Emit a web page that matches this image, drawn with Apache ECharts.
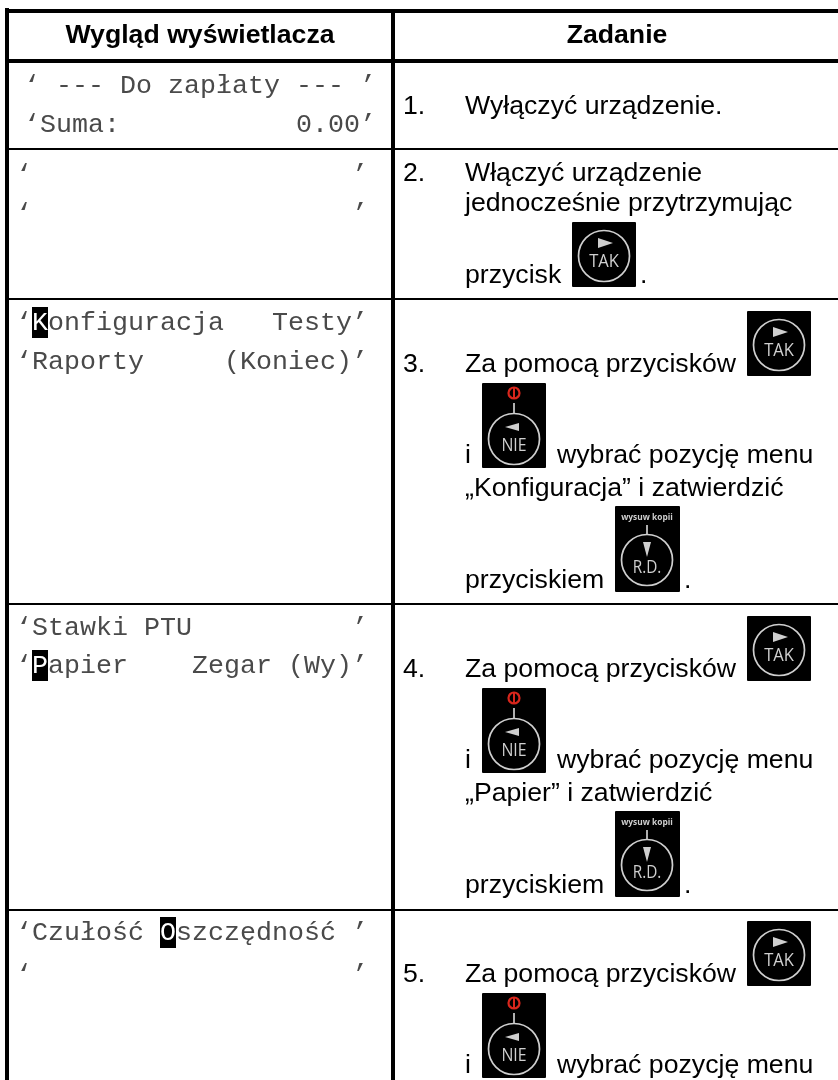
<!DOCTYPE html>
<html><head><meta charset="utf-8">
<script src="https://cdn.jsdelivr.net/npm/echarts@6/dist/echarts.min.js"></script>
<style>html,body{margin:0;padding:0;background:#fff}#c{width:838px;height:1080px}</style>
</head><body><div id="c"></div>
<script>
// ---- content ----
const headerDisplay = 'Wygląd wyświetlacza';
const headerTask = 'Zadanie';
const display1 = ['‘ --- Do zapłaty --- ’', '‘Suma:           0.00’'];
const display2 = ['‘                    ’', '‘                    ’'];
const display3 = ['‘Konfiguracja   Testy’', '‘Raporty     (Koniec)’'];
const display4 = ['‘Stawki PTU          ’', '‘Papier    Zegar (Wy)’'];
const display5 = ['‘Czułość Oszczędność ’', '‘                    ’'];
const taskNumbers = ['1.', '2.', '3.', '4.', '5.'];
const task1 = ['Wyłączyć urządzenie.'];
const task2 = ['Włączyć urządzenie', 'jednocześnie przytrzymując', 'przycisk', '.'];
const taskMenuLead = 'Za pomocą przycisków';
const taskMenuAnd = 'i';
const taskMenuPick = 'wybrać pozycję menu';
const taskMenuConfirm = ['„Konfiguracja” i zatwierdzić', '„Papier” i zatwierdzić'];
const taskMenuWith = 'przyciskiem';
const buttonLabels = {tak: 'TAK', nie: 'NIE', rd: 'R.D.', copy: 'wysuw kopii'};

// ---- layout helpers ----
const els = [];
const MONO = '26.67px "Liberation Mono", monospace';
const SANS = '26.67px "Liberation Sans", Arial, sans-serif';
const BOLD = 'bold 26.67px "Liberation Sans", Arial, sans-serif';
const CELL = 16, GREY = '#cfcfcf';

function box(x, y, w, h, fill, r) {
  els.push({type: 'rect', shape: {x, y, width: w, height: h, r: r || 0}, style: {fill: fill || '#000'}});
}
function txt(text, x, base, font, fill, align) {
  const size = parseFloat(font.match(/([\d.]+)px/)[1]);
  els.push({type: 'text', style: {text, x, y: base - 0.31 * size,
    font, fill: fill || '#000', align: align || 'left', verticalAlign: 'middle'}});
}
function monoLine(line, x0, base, cursor) {
  const MONO_INK = '#4a4a4a';
  if (cursor === undefined) { txt(line, x0, base, MONO, MONO_INK); return; }
  const chars = Array.from(line);
  const ch = chars[cursor];
  chars[cursor] = ' ';
  txt(chars.join(''), x0, base, MONO, MONO_INK);
  box(x0 + cursor * CELL, base - 24, CELL, 31, '#000');
  txt(ch, x0 + cursor * CELL, base, MONO, '#fff');
}
function ring(cx, cy, r, stroke, lw) {
  els.push({type: 'circle', shape: {cx, cy, r}, style: {fill: 'none', stroke: stroke || GREY, lineWidth: lw || 1.7}});
}
function seg(x1, y1, x2, y2, stroke, lw) {
  els.push({type: 'line', shape: {x1, y1, x2, y2}, style: {stroke: stroke || GREY, lineWidth: lw || 1.7}});
}
function tri(points) { els.push({type: 'polygon', shape: {points}, style: {fill: GREY}}); }
function label(t, cx, cy, size, weight, sx) {
  els.push({type: 'text', x: cx, y: cy, scaleX: sx || 1, style: {text: t, x: 0, y: 0, font: (weight || 'normal') + ' ' + size + 'px "Open Sans", sans-serif',
    fill: GREY, align: 'center', verticalAlign: 'middle'}});
}
function btnTak(x, y) {
  box(x, y, 64, 65, '#000', 1);
  const cx = x + 32, cy = y + 34;
  ring(cx, cy, 25.5);
  tri([[cx - 6, cy - 18], [cx + 9, cy - 13], [cx - 6, cy - 8]]);
  label(buttonLabels.tak, cx, cy + 6, 18, 'normal', 0.92);
}
function btnNie(x, y) {
  box(x, y, 64, 85, '#000', 1);
  const cx = x + 32, cy = y + 56;
  ring(cx, cy, 25.5);
  seg(cx, y + 20, cx, y + 30);
  ring(cx, y + 10, 5.5, '#d8261c', 2.2);
  seg(cx, y + 5, cx, y + 15, '#d8261c', 2);
  tri([[cx + 5, cy - 16], [cx - 9, cy - 12], [cx + 5, cy - 8]]);
  label(buttonLabels.nie, cx, cy + 7, 18, 'normal', 0.88);
}
function btnRd(x, y) {
  box(x, y, 65, 86, '#000', 1);
  const cx = x + 32, cy = y + 54;
  ring(cx, cy, 25.5);
  seg(cx, y + 19, cx, y + 28);
  tri([[cx - 4, cy - 18], [cx + 4, cy - 18], [cx, cy - 3]]);
  label(buttonLabels.copy, cx, y + 11, 9.5, 'bold', 0.88);
  label(buttonLabels.rd, cx, cy + 8, 18, 'normal', 0.85);
}

// ---- table grid ----
box(5, 8, 4, 1072);
box(391, 9, 4, 1071);
box(5, 9, 833, 4);
box(5, 59, 833, 4);
[148, 298, 603, 909].forEach(y => box(9, y, 829, 2));

txt(headerDisplay, 200, 44, BOLD, '#000', 'center');
txt(headerTask, 617, 44, BOLD, '#000', 'center');

// ---- display column ----
monoLine(display1[0], 24, 94);
monoLine(display1[1], 24, 133);
monoLine(display2[0], 16, 183);
monoLine(display2[1], 16, 222);
monoLine(display3[0], 16, 331, 1);
monoLine(display3[1], 16, 370);
monoLine(display4[0], 16, 636);
monoLine(display4[1], 16, 674, 1);
monoLine(display5[0], 16, 941, 9);
monoLine(display5[1], 16, 983);

// ---- task column ----
const NX = 403, TX = 465;
txt(taskNumbers[0], NX, 115, SANS);
txt(task1[0], TX, 115, SANS);
txt(taskNumbers[1], NX, 182, SANS);
txt(task2[0], TX, 182, SANS);
txt(task2[1], TX, 212, SANS);
txt(task2[2], TX, 284, SANS);
btnTak(572, 222);
txt(task2[3], 640, 284, SANS);

function menuTask(number, dy, confirm) {
  txt(number, NX, 373 + dy, SANS);
  txt(taskMenuLead, TX, 373 + dy, SANS);
  btnTak(747, 311 + dy);
  btnNie(482, 383 + dy);
  txt(taskMenuAnd, TX, 464 + dy, SANS);
  txt(taskMenuPick, 557, 464 + dy, SANS);
  if (confirm) {
    txt(confirm, TX, 497 + dy, SANS);
    btnRd(615, 506 + dy);
    txt(taskMenuWith, TX, 589 + dy, SANS);
    txt('.', 684, 589 + dy, SANS);
  }
}
menuTask(taskNumbers[2], 0, taskMenuConfirm[0]);
menuTask(taskNumbers[3], 305, taskMenuConfirm[1]);
menuTask(taskNumbers[4], 610);

const chart = echarts.init(document.getElementById('c'), null, {renderer: 'canvas'});
chart.setOption({animation: false, backgroundColor: '#fff', graphic: {elements: els}});
</script></body></html>
